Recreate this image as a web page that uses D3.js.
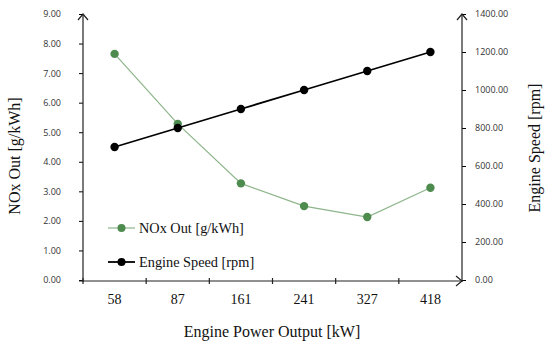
<!DOCTYPE html>
<html>
<head>
<meta charset="utf-8">
<script src="https://cdn.jsdelivr.net/npm/d3@7"></script>
<style>
  body { margin: 0; background: #fff; }
  .tick text { font-family: "Open Sans", sans-serif; }
</style>
</head>
<body>
<div id="graf"></div>
<script>
// datos
var potencia = ['58', '87', '161', '241', '327', '418']
var noxOut = [7.65, 5.28, 3.27, 2.50, 2.13, 3.12]
var velocidad = [700, 800, 900, 1000, 1100, 1200]
var ticksNox = [0, 1, 2, 3, 4, 5, 6, 7, 8, 9]
var ticksRpm = [0, 200, 400, 600, 800, 1000, 1200, 1400]

var ancho_total = 550, alto_total = 346
var margins = { top: 14, left: 83, right: 88, bottom: 66 }
var ancho = ancho_total - margins.left - margins.right
var alto = alto_total - margins.top - margins.bottom

var svg = d3.select('#graf').append('svg')
  .attr('width', ancho_total)
  .attr('height', alto_total)

var g = svg.append('g')
  .attr('transform', `translate(${margins.left}, ${margins.top})`)

// Escaladores
var x = d3.scaleBand().domain(potencia).range([0, ancho])
var yL = d3.scaleLinear().domain([0, 9]).range([alto, 0])
var yR = d3.scaleLinear().domain([0, 1400]).range([alto, 0])

var serif = '"Liberation Serif", serif'

// Ejes
var xAxis = g.append('g')
  .attr('transform', `translate(0, ${alto})`)
  .call(d3.axisBottom(x).tickSize(0).tickPadding(14))
xAxis.selectAll('text').style('font-family', serif).style('font-size', '14px').attr('fill', '#111')
xAxis.select('.domain').remove()

var yAxisL = g.append('g')
  .call(d3.axisLeft(yL).tickValues(ticksNox).tickFormat(d3.format('.2f')).tickSize(4).tickPadding(18))
yAxisL.selectAll('text').style('font-size', '9px').attr('fill', '#333')
yAxisL.select('.domain').remove()

var yAxisR = g.append('g')
  .attr('transform', `translate(${ancho}, 0)`)
  .call(d3.axisRight(yR).tickValues(ticksRpm).tickFormat(d3.format('.2f')).tickSize(4).tickPadding(9))
yAxisR.selectAll('text').style('font-size', '9px').attr('fill', '#333')
yAxisR.select('.domain').remove()

// lineas de ejes con flechas
var ejes = g.append('g').attr('stroke', '#222').attr('stroke-width', 1.2).attr('fill', 'none')
ejes.append('line').attr('x1', 0).attr('x2', 0).attr('y1', alto + 2).attr('y2', 0)
ejes.append('line').attr('x1', ancho).attr('x2', ancho).attr('y1', alto + 2).attr('y2', 0)
ejes.append('line').attr('x1', -4).attr('x2', ancho).attr('y1', alto + 1).attr('y2', alto + 1)
ejes.append('path').attr('d', `M-5,6 L0,0 L5,6`)
ejes.append('path').attr('d', `M${ancho - 5},6 L${ancho},0 L${ancho + 5},6`)
ejes.append('path').attr('d', `M${ancho - 6},${alto - 4} L${ancho},${alto + 1} L${ancho - 6},${alto + 6}`)
// marcas del eje x
ejes.selectAll('.xt').data(potencia).enter().append('line')
  .attr('x1', d => x(d)).attr('x2', d => x(d))
  .attr('y1', alto - 2).attr('y2', alto + 4)

// Generadores de linea
var lineaNox = d3.line().x((d, i) => x(potencia[i]) + x.bandwidth() / 2).y(d => yL(d))
var lineaRpm = d3.line().x((d, i) => x(potencia[i]) + x.bandwidth() / 2).y(d => yR(d))

g.append('path').attr('d', lineaNox(noxOut)).attr('fill', 'none')
  .attr('stroke', '#8db58a').attr('stroke-width', 1.2)
g.selectAll('.pn').data(noxOut).enter().append('circle')
  .attr('cx', (d, i) => x(potencia[i]) + x.bandwidth() / 2)
  .attr('cy', d => yL(d)).attr('r', 4.2).attr('fill', '#4e8b4e')

g.append('path').attr('d', lineaRpm(velocidad)).attr('fill', 'none')
  .attr('stroke', '#000').attr('stroke-width', 1.8)
g.selectAll('.pr').data(velocidad).enter().append('circle')
  .attr('cx', (d, i) => x(potencia[i]) + x.bandwidth() / 2)
  .attr('cy', d => yR(d)).attr('r', 4.2).attr('fill', '#000')

// Leyenda
var leyenda = [
  { nombre: 'NOx Out [g/kWh]', linea: '#8db58a', punto: '#4e8b4e', ancho: 1.2 },
  { nombre: 'Engine Speed [rpm]', linea: '#000', punto: '#000', ancho: 1.8 }
]
var ley = svg.selectAll('.ley').data(leyenda).enter().append('g')
  .attr('transform', (d, i) => `translate(108, ${228 + i * 34})`)
ley.append('line').attr('x1', 0).attr('x2', 27).attr('stroke', d => d.linea).attr('stroke-width', d => d.ancho)
ley.append('circle').attr('cx', 13.5).attr('r', 4).attr('fill', d => d.punto)
ley.append('text').attr('x', 31).attr('dy', '0.35em').text(d => d.nombre)
  .style('font-family', serif).style('font-size', '14.3px').attr('fill', '#111')

// Titulos
svg.append('text').attr('x', 272).attr('y', 337).attr('text-anchor', 'middle')
  .style('font-family', serif).style('font-size', '16px').attr('fill', '#111')
  .text('Engine Power Output [kW]')
svg.append('text').attr('transform', 'translate(20, 156) rotate(-90)').attr('text-anchor', 'middle')
  .style('font-family', serif).style('font-size', '16px').attr('fill', '#111')
  .text('NOx Out [g/kWh]')
svg.append('text').attr('transform', 'translate(540, 148) rotate(-90)').attr('text-anchor', 'middle')
  .style('font-family', serif).style('font-size', '16px').attr('fill', '#111')
  .text('Engine Speed [rpm]')
</script>
</body>
</html>
